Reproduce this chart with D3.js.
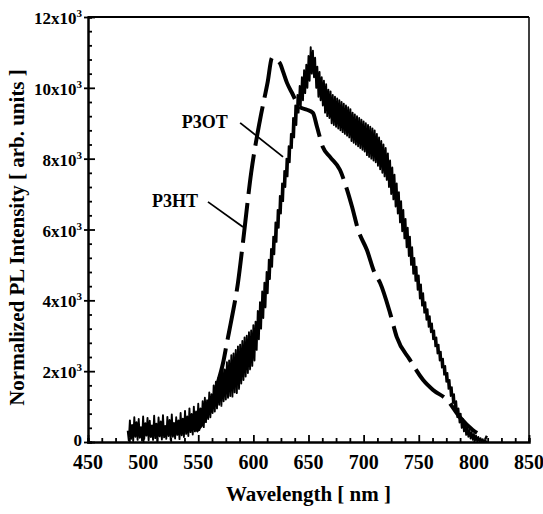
<!DOCTYPE html>
<html><head><meta charset="utf-8">
<script src="https://cdn.jsdelivr.net/npm/d3@7/dist/d3.min.js"></script>
<style>
body{margin:0;background:#fff}
svg{display:block}
text{font-family:"Liberation Serif","Times New Roman",serif;font-weight:bold;fill:#000}
</style>
</head><body>
<svg id="chart" width="543" height="514"></svg>
<script>
// P3OT: noisy PL spectrum, one sample per nm starting at 486 nm
const p3otStartNm = 486;
const p3otValues = [
 320,40,610,90,480,30,700,150,560,60,
 650,120,420,40,720,90,530,180,680,50,
 600,140,470,60,740,110,520,30,690,160,
 580,70,760,130,450,90,710,170,620,60,
 780,150,540,100,700,200,610,80,820,190,
 660,140,880,230,720,170,950,280,790,210,
 1000,300,860,380,1080,340,950,450,1150,420,
 1250,560,1180,650,1400,700,1350,820,1600,860,
 1700,950,1800,1050,1950,1020,2100,1150,2050,1200,
 2250,1250,2300,1300,2450,1280,2500,1400,2600,1380,
 2700,1500,2750,1650,2850,1750,2950,1850,3000,1950,
 3100,2050,3150,2150,3300,2300,3400,2600,3700,2900,
 3950,3200,4250,3500,4500,3800,4800,4200,5150,4600,
 5450,4950,5800,5300,6200,5650,6550,6050,6950,6450,
 7300,6800,7650,7200,8000,7500,8350,7900,8700,8300,
 9150,8600,9500,8950,9800,9300,10050,9500,10300,9650,
 10500,9850,10650,10000,10900,10200,11150,10400,11050,10300,
 10850,10000,10600,9750,10450,9650,10300,9500,10200,9300,
 10100,9200,9950,9150,9900,9000,9800,8950,9750,8900,
 9700,8850,9650,8800,9600,8750,9550,8700,9500,8650,
 9450,8600,9400,8500,9300,8450,9250,8400,9200,8350,
 9150,8300,9100,8250,9050,8200,9000,8100,8950,8050,
 8900,8000,8850,7950,8800,7900,8700,7800,8600,7700,
 8500,7600,8400,7500,8300,7400,8150,7200,7950,7000,
 7750,6850,7550,6650,7300,6450,7050,6200,6800,5950,
 6550,5750,6300,5500,6050,5250,5800,5000,5500,4750,
 5200,4550,4950,4300,4700,4050,4450,3850,4200,3650,
 3950,3450,3750,3250,3550,3100,3350,2900,3150,2700,
 2950,2500,2750,2300,2550,2100,2350,1900,2150,1700,
 1950,1500,1750,1300,1550,1100,1350,900,1150,700,
 950,550,800,400,650,300,520,200,420,150,
 350,100,280,60,230,40,180,20,140,10,
 110,0,80,0,60,0,30
];

// P3HT: smooth PL spectrum (dashed)
const p3htNm = [548,555,563,568,572.5,576,580.6,586,590.6,598,606,613,617,620,624,627,630.5,635,642,648.6,654,657.7,663,669.5,678.6,685,689.5,695,703,710,715,724,730,742,754,763,775.6,787,799,812];
const p3htValues = [300,600,1200,1700,2230,2800,3530,4490,5650,7600,9090,10170,10850,10800,10700,10450,10140,9860,9460,9380,9290,8900,8330,8050,7680,7120,6640,5990,5420,4770,4490,3640,2970,2320,1750,1470,1190,710,340,110];

const xTicks = [450,500,550,600,650,700,750,800,850];
const yTicks = [0,2000,4000,6000,8000,10000,12000];
const yTickMantissa = ["0","2","4","6","8","10","12"];

// annotation labels and leader lines, in data units (nm, intensity)
const annotationLabels = ["P3OT","P3HT"];
const annotationTextPos = [[556,8870],[529,6640]];
const annotationLineFrom = [[588,9010],[558.8,6780]];
const annotationLineTo = [[626.9,8050],[590.6,6070]];

const svg = d3.select("#chart");
const x = d3.scaleLinear().domain([450,850]).range([88,529]);
const y = d3.scaleLinear().domain([0,12000]).range([442,17]);

// curves
const p3otData = p3otValues.map((v,i)=>[p3otStartNm+i, v]);
const line = d3.line().x(d=>x(d[0])).y(d=>y(d[1]));
svg.append("path").datum(p3otData).attr("d",line)
  .attr("fill","none").attr("stroke","#000").attr("stroke-width",1.9).attr("stroke-linejoin","round");
const p3htData = p3htNm.map((n,i)=>[n,p3htValues[i]]);
svg.append("path").datum(p3htData).attr("d",d3.line().x(d=>x(d[0])).y(d=>y(d[1])).curve(d3.curveMonotoneX))
  .attr("fill","none").attr("stroke","#000").attr("stroke-width",4).attr("stroke-dasharray","40,9");

// frame
svg.append("line").attr("x1",x(450)).attr("x2",x(850)).attr("y1",y(12000)).attr("y2",y(12000)).attr("stroke","#000").attr("stroke-width",2);
svg.append("line").attr("x1",x(850)).attr("x2",x(850)).attr("y1",y(0)).attr("y2",y(12000)).attr("stroke","#000").attr("stroke-width",1.5);

// x axis (inward ticks)
const xMinor = d3.range(450,850.1,12.5);
const xAxis = d3.axisBottom(x).tickValues(xMinor).tickSize(-4).tickFormat("");
const gx = svg.append("g").attr("transform",`translate(0,${y(0)})`).call(xAxis);
gx.select(".domain").attr("stroke-width",2.5);
gx.selectAll(".tick line").attr("stroke-width",1.8)
  .attr("y2",d=>xTicks.includes(d)?-7:-4);
svg.append("g").selectAll("text").data(xTicks).join("text")
  .attr("x",d=>x(d)).attr("y",y(0)+27).attr("text-anchor","middle").attr("font-size",20).text(d=>d);

// y axis (inward ticks)
const yMinor = d3.range(0,12000.1,400);
const yAxis = d3.axisLeft(y).tickValues(yMinor).tickSize(-4).tickFormat("");
const gy = svg.append("g").attr("transform",`translate(${x(450)},0)`).call(yAxis);
gy.select(".domain").attr("stroke-width",2.5);
gy.selectAll(".tick line").attr("stroke-width",1.8)
  .attr("x1",d=>yTicks.includes(d)?-4:0)
  .attr("x2",d=>yTicks.includes(d)?7:4);
const yl = svg.append("g").selectAll("text").data(yTicks).join("text")
  .attr("x",x(450)-6).attr("y",d=>d===0?y(d)+4:y(d)+7).attr("text-anchor","end").attr("font-size",17);
yl.each(function(d,i){
  const t = d3.select(this);
  if(d===0){ t.text("0"); return; }
  t.append("tspan").text(yTickMantissa[i]+"x10");
  t.append("tspan").attr("font-size",11).attr("dy",-7).text("3");
});

// axis titles
svg.append("text").attr("x",(x(450)+x(850))/2).attr("y",501).attr("text-anchor","middle").attr("font-size",21).text("Wavelength [ nm ]");
svg.append("text").attr("transform",`translate(24,${(y(0)+y(12000))/2+8}) rotate(-90)`).attr("text-anchor","middle").attr("font-size",21).text("Normalized PL Intensity [ arb. units ]");

// annotations
annotationLabels.forEach((lab,i)=>{
  svg.append("text").attr("x",x(annotationTextPos[i][0])).attr("y",y(annotationTextPos[i][1])).attr("text-anchor","middle").attr("font-size",18).text(lab);
  svg.append("line").attr("x1",x(annotationLineFrom[i][0])).attr("y1",y(annotationLineFrom[i][1]))
    .attr("x2",x(annotationLineTo[i][0])).attr("y2",y(annotationLineTo[i][1])).attr("stroke","#000").attr("stroke-width",1.8);
});
</script>
</body></html>
